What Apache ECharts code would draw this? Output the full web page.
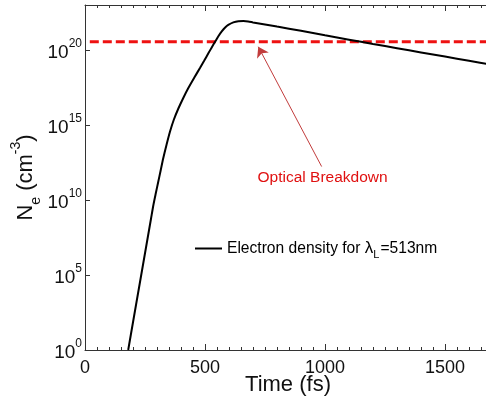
<!DOCTYPE html>
<html>
<head>
<meta charset="utf-8">
<script src="https://cdn.jsdelivr.net/npm/echarts@6/dist/echarts.min.js"></script>
<style>
  html, body { margin: 0; padding: 0; background: #ffffff; }
  #chart { width: 486px; height: 403px; }
</style>
</head>
<body>
<div id="chart"></div>
<script>
// Time axis of the simulation (fs)
const timeFs = [180, 200, 225, 250, 275, 285, 295, 305, 315, 326, 340, 354, 370, 389,
  410, 430, 455, 479, 497, 514, 528, 542, 555, 569, 583, 597, 618, 639, 660, 680,
  700, 750, 800, 900, 1000, 1100, 1200, 1300, 1400, 1500, 1600, 1700];
// Electron density as log10(Ne / cm^-3) at each time
const logNe = [0, 1.85, 4.15, 6.45, 8.75, 9.67, 10.45, 11.2, 11.95, 12.78, 13.7, 14.55, 15.35, 16.1,
  16.82, 17.45, 18.15, 18.8, 19.3, 19.78, 20.17, 20.55, 20.9, 21.22, 21.48, 21.67, 21.84, 21.92, 21.93, 21.9,
  21.84, 21.7, 21.56, 21.28, 20.98, 20.69, 20.4, 20.12, 19.84, 19.56, 19.28, 19.0];
// Optical breakdown threshold (cm^-3) and the time span of the dashed line
const breakdownNe = 3.5e20;
const breakdownSpan = [20, 1700];
// Annotation: label anchor and arrow (time fs, density cm^-3)
const noteLabel = [990, 3.0e11];
const arrowFrom = [986, 1.7e12];
const arrowTo = [722, 1.65e20];
// Axis ranges
const xRange = [0, 2000];
const xStep = 500;
const yRange = [1, 1e23];
const yDecadeStep = 5;

const FONT = '"Liberation Sans", Arial, sans-serif';
const AXIS_COLOR = '#333333';

const curve = timeFs.map((t, i) => [t, Math.pow(10, logNe[i])]);
const threshold = breakdownSpan.map(t => [t, breakdownNe]);

const chart = echarts.init(document.getElementById('chart'), null, { renderer: 'canvas' });

const xCommon = {
  type: 'value',
  min: xRange[0],
  max: xRange[1],
  interval: xStep,
  splitLine: { show: false },
  axisLine: { show: true, onZero: false, lineStyle: { color: AXIS_COLOR, width: 1 } },
  axisTick: { show: true, inside: true, length: 6, lineStyle: { color: AXIS_COLOR } },
  minorTick: { show: true, splitNumber: 10, length: 3, lineStyle: { color: AXIS_COLOR } }
};

chart.setOption({
  animation: false,
  backgroundColor: '#ffffff',
  grid: { left: 85, right: -79, top: 5, bottom: 53, containLabel: false, outerBoundsMode: 'none' },
  legend: {
    left: 195,
    top: 240,
    padding: 0,
    data: ['Electron density'],
    icon: 'rect',
    itemWidth: 27,
    itemHeight: 2,
    itemGap: 4,
    formatter: () => '{a|Electron density for }{g|λ}{sub|L}{a|=513nm}',
    textStyle: {
      fontFamily: FONT,
      color: '#000',
      rich: {
        a: { fontSize: 15.6, fontFamily: FONT, color: '#000', lineHeight: 24, verticalAlign: 'middle' },
        g: { fontSize: 17, fontFamily: FONT, color: '#000', lineHeight: 24, verticalAlign: 'middle' },
        sub: { fontSize: 11, fontFamily: FONT, color: '#000', lineHeight: 24, verticalAlign: 'bottom', padding: [0, 1, 0, 0] }
      }
    }
  },
  xAxis: [
    Object.assign({}, xCommon, {
      position: 'bottom',
      axisLabel: {
        show: true, fontSize: 18, fontFamily: FONT, color: '#111', margin: 9,
        showMaxLabel: false,
        formatter: v => (v <= 1500 ? String(v) : '')
      },
      name: 'Time (fs)',
      nameLocation: 'middle',
      nameGap: 24,
      nameMoveOverlap: false,
      nameTextStyle: { fontSize: 22, fontFamily: FONT, color: '#111', padding: [0, 74, 0, 0] }
    }),
    Object.assign({}, xCommon, {
      position: 'top',
      axisLabel: { show: false }
    })
  ],
  yAxis: {
    type: 'log',
    logBase: 10,
    min: yRange[0],
    max: yRange[1],
    interval: yDecadeStep,
    splitLine: { show: false },
    axisLine: { show: true, lineStyle: { color: AXIS_COLOR, width: 1 } },
    axisTick: { show: true, inside: true, length: 5, lineStyle: { color: AXIS_COLOR } },
    minorTick: { show: false },
    axisLabel: {
      show: true,
      margin: 3,
      showMaxLabel: false,
      formatter: v => '{b|10}{s|' + Math.round(Math.log10(v)) + '}',
      rich: {
        b: { fontSize: 19, fontFamily: FONT, color: '#111', lineHeight: 24, verticalAlign: 'bottom' },
        s: { fontSize: 12, fontFamily: FONT, color: '#111', lineHeight: 24, verticalAlign: 'top' }
      }
    },
    name: '{n|N}{sub|e}{n| (cm}{sup|-3}{n|)}',
    nameLocation: 'middle',
    nameGap: 42,
    nameMoveOverlap: false,
    nameRotate: 90,
    nameTextStyle: {
      rich: {
        n: { fontSize: 22, fontFamily: FONT, color: '#111', lineHeight: 34, verticalAlign: 'middle' },
        sub: { fontSize: 14, fontFamily: FONT, color: '#111', lineHeight: 34, verticalAlign: 'bottom' },
        sup: { fontSize: 14, fontFamily: FONT, color: '#111', lineHeight: 34, verticalAlign: 'top' }
      }
    }
  },
  series: [
    {
      name: 'Electron density',
      type: 'line',
      xAxisIndex: 0,
      data: curve,
      smooth: 0.25,
      showSymbol: false,
      symbol: 'none',
      clip: true,
      lineStyle: { color: '#000000', width: 2 },
      itemStyle: { color: '#000000' },
      z: 3
    },
    {
      name: 'Optical breakdown threshold',
      type: 'line',
      xAxisIndex: 0,
      data: threshold,
      showSymbol: false,
      symbol: 'none',
      clip: true,
      lineStyle: { color: '#ee1111', width: 3, type: [9, 4] },
      itemStyle: { color: '#ee1111' },
      z: 2,
      markLine: {
        silent: true,
        symbol: ['none', 'arrow'],
        symbolSize: 10,
        label: { show: false },
        lineStyle: { color: '#c23c3c', width: 1, type: 'solid' },
        data: [[{ coord: arrowFrom }, { coord: arrowTo }]]
      },
      markPoint: {
        silent: true,
        symbol: 'circle',
        symbolSize: 0,
        data: [{ coord: noteLabel }],
        label: {
          show: true,
          position: 'inside',
          formatter: 'Optical Breakdown',
          fontSize: 15.5,
          fontFamily: FONT,
          color: '#e01010'
        }
      }
    }
  ]
});
</script>
</body>
</html>
